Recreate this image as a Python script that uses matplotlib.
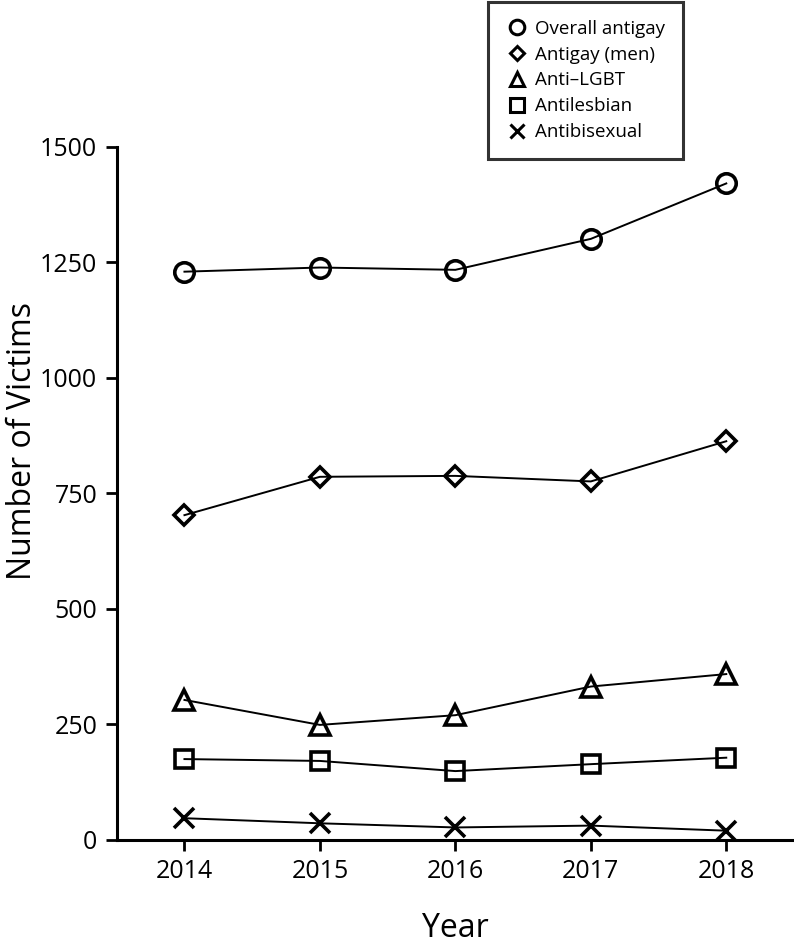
import matplotlib
matplotlib.use("Agg")
import matplotlib.pyplot as plt
from matplotlib.lines import Line2D

plt.rcParams['font.family'] = ['Open Sans', 'DejaVu Sans']

years = [2014, 2015, 2016, 2017, 2018]
overall_antigay = [1230, 1239, 1234, 1301, 1421]
antigay_men = [703, 786, 788, 776, 863]
anti_lgbt = [303, 249, 270, 332, 359]
antilesbian = [175, 171, 149, 164, 178]
antibisexual = [47, 36, 27, 31, 20]

labels = ['Overall antigay', 'Antigay (men)', 'Anti\u2013LGBT', 'Antilesbian', 'Antibisexual']
markers = ['o', 'D', '^', 's', 'x']
sizes = [14, 10, 14, 13, 14]

fig = plt.figure(figsize=(7.94, 9.48), dpi=100)
ax = fig.add_axes([0.147, 0.114, 0.853, 0.731])

series = [overall_antigay, antigay_men, anti_lgbt, antilesbian, antibisexual]
for vals, m, s in zip(series, markers, sizes):
    ax.plot(years, vals, color='black', lw=1.4, marker=m, markersize=s,
            markerfacecolor='none', markeredgecolor='black', markeredgewidth=2.6)

ax.set_xlim(2013.5, 2018.5)
ax.set_ylim(0, 1500)
ax.set_xticks(years)
ax.set_yticks([0, 250, 500, 750, 1000, 1250, 1500])
ax.spines['top'].set_visible(False)
ax.spines['right'].set_visible(False)
ax.spines['left'].set_linewidth(2.2)
ax.spines['bottom'].set_linewidth(2.2)
ax.tick_params(direction='out', length=8, width=2, labelsize=18, pad=6)
ax.set_xlabel('Year', fontsize=23, labelpad=20)
ax.set_ylabel('Number of Victims', fontsize=23)
ax.yaxis.set_label_coords(-0.115, 0.576)

# legend: markers only, boxed, in the top right of the figure
handles = [Line2D([], [], ls='none', marker=m, markersize=s * 0.75, markerfacecolor='none',
                  markeredgecolor='black', markeredgewidth=2.2)
           for m, s in zip(markers, sizes)]
leg = fig.legend(handles, labels, loc='upper left', bbox_to_anchor=(0.615, 0.998),
                 fontsize=13.5, frameon=True, fancybox=False, edgecolor='black',
                 handlelength=1.2, handletextpad=0.36, labelspacing=0.42,
                 borderpad=0.95, borderaxespad=0)
leg.get_frame().set_linewidth(2.2)

fig.savefig('out.png', dpi=100, facecolor='white')
